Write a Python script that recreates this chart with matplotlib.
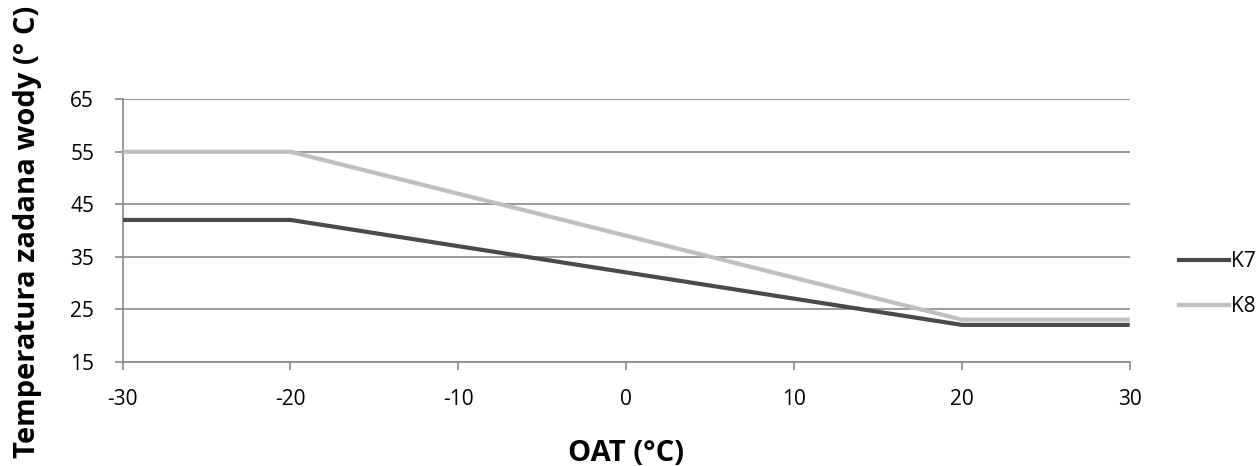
import matplotlib
matplotlib.use("Agg")
import matplotlib.pyplot as plt
from matplotlib.lines import Line2D

plt.rcParams['font.family'] = ['Open Sans', 'DejaVu Sans']

oat = [-30, -20, 20, 30]
k7 = [42, 42, 22, 22]
k8 = [55, 55, 23, 23]
x_ticks = [-30, -20, -10, 0, 10, 20, 30]
y_ticks = [15, 25, 35, 45, 55, 65]

grid_c = '#898989'
fig = plt.figure(figsize=(12.58, 4.66), dpi=100)
ax = fig.add_axes([0.0975, 0.224, 0.8005, 0.563])

ax.plot(oat, k8, color='#bfbfbf', lw=3.0, solid_capstyle='butt', zorder=3)
ax.plot(oat, k7, color='#4a4a4a', lw=3.0, solid_capstyle='butt', zorder=4)

ax.set_xlim(-30, 30)
ax.set_ylim(15, 65)
ax.set_xticks(x_ticks)
ax.set_yticks(y_ticks)
ax.set_xticklabels([str(v) for v in x_ticks])
ax.set_yticklabels([str(v) for v in y_ticks])
ax.grid(axis='y', color=grid_c, lw=1.2)
ax.set_axisbelow(True)
for s in ['top', 'right']:
    ax.spines[s].set_visible(False)
for s in ['left', 'bottom']:
    ax.spines[s].set_color(grid_c)
    ax.spines[s].set_linewidth(1.2)
ax.tick_params(axis='both', colors=grid_c, width=1.2, length=5.5, labelsize=15,
               labelcolor='black')
ax.tick_params(axis='x', pad=14)
ax.tick_params(axis='y', pad=15)

ax.set_xlabel('OAT (°C)', fontsize=21, fontweight='bold', labelpad=21)
fig.text(0.022, 0.502, 'Temperatura zadana wody (° C)', rotation=90, fontsize=21,
         fontweight='bold', ha='center', va='center')

handles = [Line2D([], [], color='#4a4a4a', lw=3.0),
           Line2D([], [], color='#bfbfbf', lw=3.0)]
fig.legend(handles, ['K7', 'K8'], loc='center left', bbox_to_anchor=(0.937, 0.39),
           frameon=False, fontsize=15, handlelength=2.4, handletextpad=0.12,
           labelspacing=1.15, borderaxespad=0, borderpad=0)

fig.savefig('out.png', dpi=100)
